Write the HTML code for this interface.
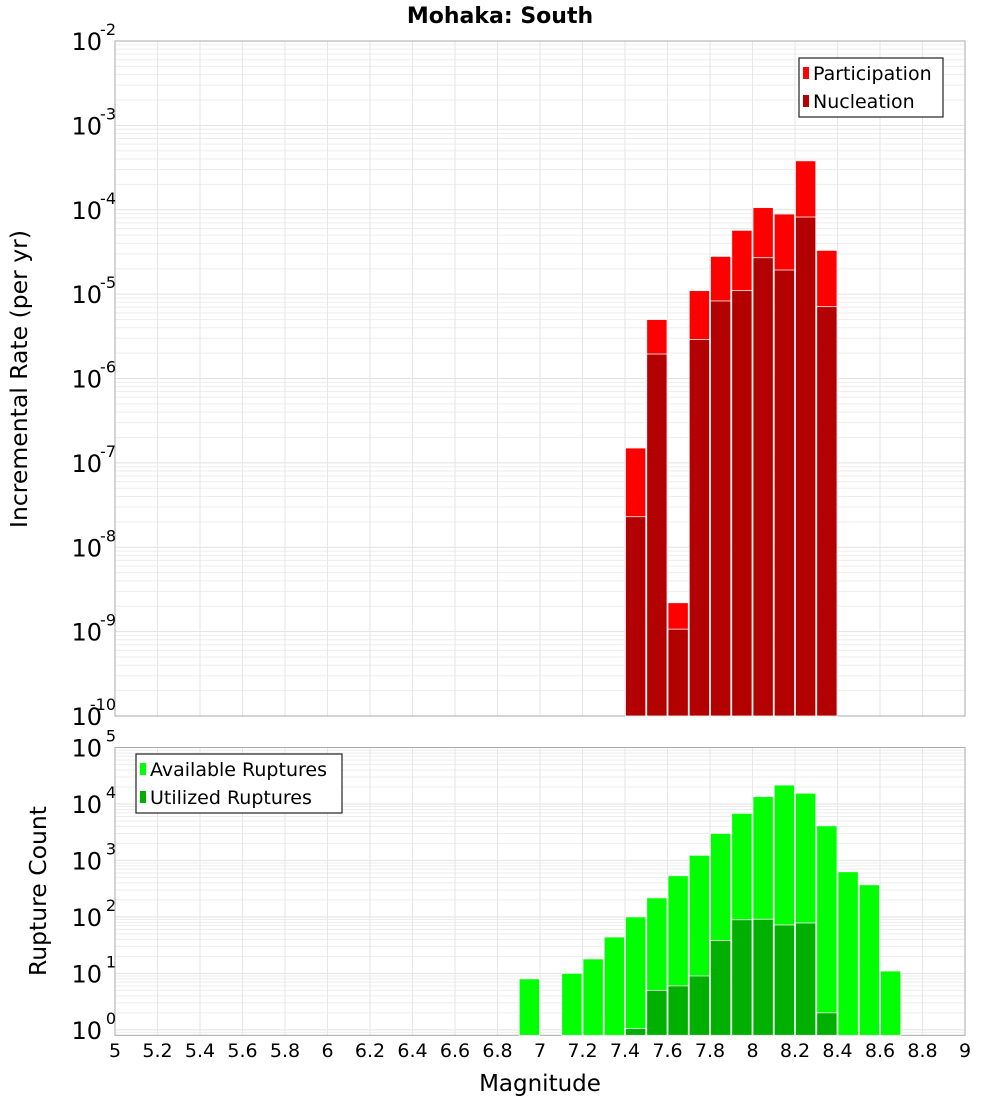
<!DOCTYPE html>
<html><head><meta charset="utf-8"><style>
body{margin:0;background:#fff;}
svg{display:block;font-family:"DejaVu Sans","Liberation Sans",sans-serif;}
</style></head><body>
<svg id="chart" width="1000" height="1100" viewBox="0 0 1000 1100" xmlns="http://www.w3.org/2000/svg">
<text x="500" y="23" text-anchor="middle" font-size="22" font-weight="bold">Mohaka: South</text>
<g id="topPlot"></g>
<g id="botPlot"></g>
<text x="540" y="1091" text-anchor="middle" font-size="23">Magnitude</text>
<text transform="translate(27,379) rotate(-90)" text-anchor="middle" font-size="23.5">Incremental Rate (per yr)</text>
<text transform="translate(46,891) rotate(-90)" text-anchor="middle" font-size="23.5">Rupture Count</text>
</svg>
<script>
const rateMags = [7.4, 7.5, 7.6, 7.7, 7.8, 7.9, 8.0, 8.1, 8.2, 8.3];
const participation = [1.5e-7, 5e-6, 2.2e-9, 1.1e-5, 2.8e-5, 5.7e-5, 1.06e-4, 8.9e-5, 3.8e-4, 3.3e-5];
const nucleation = [2.3e-8, 1.95e-6, 1.07e-9, 2.9e-6, 8.3e-6, 1.1e-5, 2.7e-5, 1.93e-5, 8.2e-5, 7.1e-6];
const countMags = [6.9, 7.1, 7.2, 7.3, 7.4, 7.5, 7.6, 7.7, 7.8, 7.9, 8.0, 8.1, 8.2, 8.3, 8.4, 8.5, 8.6];
const available = [8, 10, 18, 44, 100, 217, 535, 1230, 3000, 6800, 13500, 21600, 15500, 4100, 630, 370, 11];
const utilized = [0, 0, 0, 0, 1.05, 5, 6, 9, 38, 89, 91, 72, 78, 2, 0, 0, 0];
const xTicks = [5,5.2,5.4,5.6,5.8,6,6.2,6.4,6.6,6.8,7,7.2,7.4,7.6,7.8,8,8.2,8.4,8.6,8.8,9];
const topExps = [-2,-3,-4,-5,-6,-7,-8,-9,-10];
const botExps = [5,4,3,2,1,0];

const NS="http://www.w3.org/2000/svg";
const X0=115,X1=965,XMIN=5,XMAX=9;
const xs=m=>X0+(m-XMIN)/(XMAX-XMIN)*(X1-X0);
const T={y0:41,y1:716,lmax:-2,lmin:-10};
const B={y0:747.5,y1:1035.3,lmax:5,lmin:Math.log10(0.8)};
const ys=(P,v)=>P.y0+(P.lmax-Math.log10(v))/(P.lmax-P.lmin)*(P.y1-P.y0);
function el(tag,attrs,parent){const e=document.createElementNS(NS,tag);for(const k in attrs)e.setAttribute(k,attrs[k]);parent.appendChild(e);return e;}

function frame(g,P,exps,name){
  for(let d=Math.floor(P.lmin);d<P.lmax;d++){for(let k=1;k<10;k++){const v=k*Math.pow(10,d);const lv=Math.log10(v);if(lv<P.lmin||lv>P.lmax)continue;
    const y=ys(P,v);const l=el('line',{x1:X0,x2:X1,y1:y,y2:y,stroke:k==1?'#e2e2e2':'#ededed','stroke-width':1},g);
    }}
  xTicks.forEach(t=>{const x=xs(t);const l=el('line',{x1:x,x2:x,y1:P.y0,y2:P.y1,stroke:'#e6e6e6'},g);
    });
  const r=el('rect',{x:X0,y:P.y0,width:X1-X0,height:P.y1-P.y0,fill:'none',stroke:'#aaa','stroke-width':1},g);
  
  exps.forEach(e=>{const y=ys(P,Math.pow(10,e));
    const t=el('text',{x:102,y:y+9,'text-anchor':'end','font-size':24},g);
    
    t.textContent='10';
    const s=el('text',{x:116,y:y-6,'text-anchor':'end','font-size':16},g);
    
    s.textContent=String(e);});
}
function bars(g,P,mags,vals,color,name){
  mags.forEach((m,i)=>{const v=vals[i];if(!(v>0))return;
    const x=xs(m),w=xs(m+0.1)-x;const y=Math.max(P.y0,ys(P,v));
    const r=el('rect',{x:x+0.5,y:y,width:w-1,height:P.y1-y,fill:color,stroke:'#f4f4f4','stroke-width':0.8},g);
    });
}
function legend(g,x,y,w,items,name){
  const r=el('rect',{x:x,y:y,width:w,height:59,fill:'#fff',stroke:'#222','stroke-width':1.2},g);
  
  items.forEach((it,i)=>{const cy=y+15+i*28;
    const s=el('rect',{x:x+4,y:cy-6,width:6,height:12,fill:it[1]},g);
    
    const t=el('text',{x:x+14,y:cy+7,'font-size':19},g);
    
    t.textContent=it[0];});
}
const gTop=document.getElementById('topPlot'),gBot=document.getElementById('botPlot');
frame(gTop,T,topExps,'top');
bars(gTop,T,rateMags,participation,'#ff0000','participation');
bars(gTop,T,rateMags,nucleation,'#b30000','nucleation');
legend(gTop,799,58,144,[['Participation','#ff0000'],['Nucleation','#b30000']],'top-legend');
frame(gBot,B,botExps,'bottom');
bars(gBot,B,countMags,available,'#00ff00','available');
bars(gBot,B,countMags,utilized,'#00b000','utilized');
legend(gBot,136,754,206,[['Available Ruptures','#00ff00'],['Utilized Ruptures','#00b000']],'bottom-legend');
xTicks.forEach(t=>{const tx=el('text',{x:xs(t),y:1057,'text-anchor':'middle','font-size':19},gBot);
  
  tx.textContent=String(t);});
</script>
</body></html>
